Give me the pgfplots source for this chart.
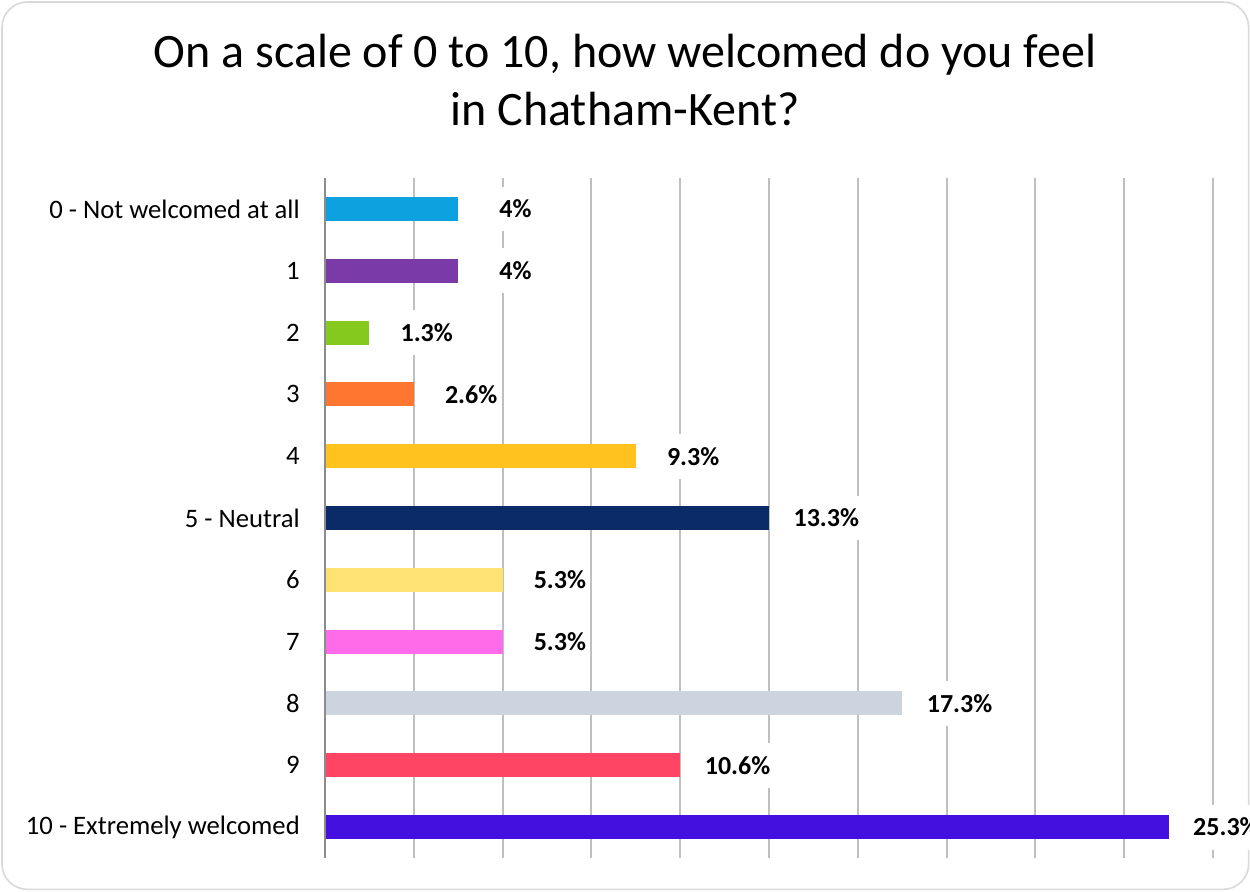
\documentclass[border=0pt]{standalone}
\usepackage{pgfplots}
\pgfplotsset{compat=1.18}
\usepackage{fontspec}
\setmainfont{Carlito}

\definecolor{c0}{HTML}{0EA1E0}
\definecolor{c1}{HTML}{7A3BA9}
\definecolor{c2}{HTML}{85C91E}
\definecolor{c3}{HTML}{FF7631}
\definecolor{c4}{HTML}{FFC21E}
\definecolor{c5}{HTML}{0B2A68}
\definecolor{c6}{HTML}{FFE273}
\definecolor{c7}{HTML}{FF6BE8}
\definecolor{c8}{HTML}{CBD4DF}
\definecolor{c9}{HTML}{FF4563}
\definecolor{c10}{HTML}{4310E0}
\definecolor{gridgray}{HTML}{BFBFBF}
\definecolor{axisgray}{HTML}{8C8C8C}
\definecolor{framegray}{HTML}{D9D9D9}

\begin{document}
\begin{tikzpicture}
% page = 1250 x 892 px, 1 px = 0.75pt, origin top-left
\path[use as bounding box] (0,0) rectangle (937.5pt,-669pt);
\clip (0,0) rectangle (937.5pt,-669pt);
\fill[white] (0,0) rectangle (937.5pt,-669pt);
\draw[framegray, line width=1.2pt, rounded corners=19pt] (1.5pt,-1.5pt) rectangle (936.5pt,-667pt);

% title
\node[anchor=base, font=\fontsize{36}{43}\selectfont] at (468.75pt,-51pt) {On a scale of 0 to 10, how welcomed do you feel};
\node[anchor=base, font=\fontsize{36}{43}\selectfont] at (468.75pt,-94.5pt) {in Chatham-Kent?};

\begin{axis}[
    at={(243.75pt,-133.5pt)}, anchor=north west,
    scale only axis, width=666pt, height=510pt,
    xbar, bar width=18pt, bar shift=0pt,
    xmin=0, xmax=26.6667,
    ymin=-0.5, ymax=10.5, y dir=reverse,
    xtick={0,2.6667,5.3333,8,10.6667,13.3333,16,18.6667,21.3333,24,26.6667},
    xticklabels={},
    xmajorgrids, grid style={gridgray, line width=1.5pt},
    ytick={0,...,10},
    yticklabels={0 - Not welcomed at all,1,2,3,4,5 - Neutral,6,7,8,9,10 - Extremely welcomed},
    yticklabel style={font=\fontsize{20}{24}\selectfont, inner sep=0pt, xshift=-18.75pt},
    major tick length=0pt,
    axis line style={draw=none},
    clip=false,
    nodes near coords, point meta=explicit symbolic,
    every node near coord/.append style={font=\fontsize{19.5}{23}\selectfont\bfseries, text=black,
        anchor=center, xshift=43pt, fill=white, inner xsep=2pt, inner ysep=10pt},
    every axis plot/.append style={draw=none},
]
\addplot[fill=c0]  coordinates {(4,0) [4\%]};
\addplot[fill=c1]  coordinates {(4,1) [4\%]};
\addplot[fill=c2]  coordinates {(1.3333,2) [1.3\%]};
\addplot[fill=c3]  coordinates {(2.6667,3) [2.6\%]};
\addplot[fill=c4]  coordinates {(9.3333,4) [9.3\%]};
\addplot[fill=c5]  coordinates {(13.3333,5) [13.3\%]};
\addplot[fill=c6]  coordinates {(5.3333,6) [5.3\%]};
\addplot[fill=c7]  coordinates {(5.3333,7) [5.3\%]};
\addplot[fill=c8]  coordinates {(17.3333,8) [17.3\%]};
\addplot[fill=c9]  coordinates {(10.6667,9) [10.6\%]};
\addplot[fill=c10] coordinates {(25.3333,10) [25.3\%]};
% left axis line
\draw[axisgray, line width=1.5pt] (axis cs:0,-0.5) -- (axis cs:0,10.5);
\end{axis}
\end{tikzpicture}
\end{document}
